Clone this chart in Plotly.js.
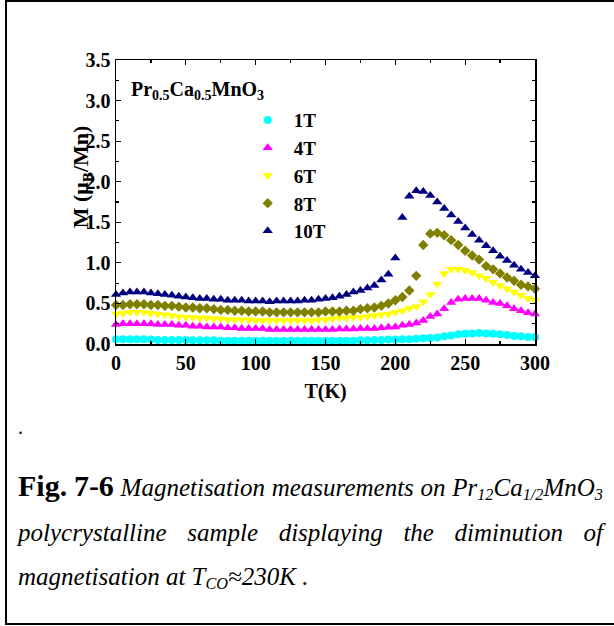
<!DOCTYPE html>
<html>
<head>
<meta charset="utf-8">
<script src="https://cdn.plot.ly/plotly-3.0.1.min.js"></script>
<style>
  html, body { margin: 0; padding: 0; background: #fff; width: 614px; height: 626px; overflow: hidden; }
  #frame { position: absolute; left: 5px; top: 0; width: 700px; height: 621px; border: 2px solid #000; pointer-events: none; }
  #chart { position: absolute; left: 0; top: 0; width: 614px; height: 626px; }
  .cap { position: absolute; left: 18px; width: 585px; font-family: "Liberation Serif", "Times New Roman", serif; color: #000; }
  .just { display: flex; justify-content: space-between; align-items: baseline; line-height: 30px; height: 30px; }
  .it { font-style: italic; font-size: 25px; }
  .bf { font-weight: bold; font-size: 30px; }
  .cap sub { font-size: 0.65em; vertical-align: -0.25em; line-height: 0; }
</style>
</head>
<body>
<div id="chart"></div>
<div id="frame"></div>
<div class="cap" style="top:412px;font-size:20px;line-height:30px;">.</div>
<div class="cap just" style="top:471px;">
  <span class="bf">Fig.</span><span class="bf">7-6</span>
  <span class="it">Magnetisation</span><span class="it">measurements</span><span class="it">on</span>
  <span class="it">Pr<sub>12</sub>Ca<sub>1/2</sub>MnO<sub>3</sub></span>
</div>
<div class="cap just" style="top:518px;">
  <span class="it">polycrystalline</span><span class="it">sample</span><span class="it">displaying</span>
  <span class="it">the</span><span class="it">diminution</span><span class="it">of</span>
</div>
<div class="cap it" style="top:562px;line-height:30px;">magnetisation at T<sub>CO</sub>&#8776;230K .</div>
<script>
// Temperature grid (K)
const temperature = [0,5,10,15,20,25,30,35,40,45,50,55,60,65,70,75,80,85,90,95,
  100,105,110,115,120,125,130,135,140,145,150,155,160,165,170,175,180,185,190,195,
  200,205,210,215,220,225,230,235,240,245,250,255,260,265,270,275,280,285,290,295,300];

// Magnetisation (muB/Mn) for each applied field
const m1T = [0.06,0.06,0.06,0.06,0.06,0.055,0.05,0.05,0.05,0.05,
  0.05,0.045,0.045,0.045,0.045,0.04,0.04,0.04,0.04,0.04,
  0.04,0.04,0.04,0.04,0.04,0.04,0.04,0.04,0.04,0.04,
  0.04,0.04,0.04,0.04,0.04,0.045,0.045,0.05,0.05,0.055,
  0.055,0.06,0.06,0.065,0.07,0.075,0.08,0.095,0.105,0.12,
  0.125,0.13,0.135,0.13,0.125,0.12,0.11,0.10,0.095,0.085,0.085];
const m4T = [0.24,0.25,0.25,0.25,0.25,0.25,0.24,0.24,0.24,0.23,
  0.23,0.22,0.22,0.21,0.21,0.21,0.20,0.20,0.19,0.19,
  0.19,0.19,0.18,0.18,0.18,0.18,0.18,0.18,0.18,0.18,
  0.18,0.18,0.185,0.185,0.185,0.19,0.19,0.19,0.20,0.205,
  0.21,0.23,0.24,0.26,0.29,0.34,0.37,0.435,0.51,0.55,
  0.56,0.56,0.56,0.54,0.51,0.50,0.47,0.435,0.41,0.385,0.37];
const m6T = [0.37,0.38,0.39,0.39,0.39,0.38,0.37,0.36,0.35,0.34,
  0.33,0.33,0.32,0.32,0.31,0.31,0.30,0.30,0.30,0.30,
  0.29,0.29,0.29,0.29,0.29,0.29,0.29,0.29,0.29,0.30,
  0.30,0.31,0.32,0.32,0.33,0.33,0.34,0.35,0.36,0.37,
  0.39,0.41,0.44,0.46,0.52,0.61,0.74,0.87,0.92,0.92,
  0.91,0.88,0.84,0.81,0.76,0.72,0.68,0.64,0.60,0.56,0.54];
const m8T = [0.48,0.48,0.49,0.49,0.49,0.48,0.48,0.47,0.47,0.46,
  0.45,0.45,0.44,0.44,0.43,0.42,0.42,0.41,0.41,0.40,
  0.40,0.40,0.39,0.39,0.39,0.39,0.39,0.39,0.39,0.39,
  0.40,0.40,0.40,0.41,0.41,0.43,0.44,0.45,0.47,0.50,
  0.54,0.58,0.66,0.84,1.22,1.36,1.37,1.34,1.28,1.22,
  1.15,1.09,1.04,0.96,0.92,0.87,0.82,0.78,0.73,0.71,0.68];
const m10T = [0.61,0.63,0.64,0.64,0.64,0.63,0.62,0.61,0.60,0.59,
  0.58,0.57,0.56,0.56,0.55,0.55,0.54,0.54,0.54,0.53,
  0.53,0.53,0.52,0.53,0.53,0.53,0.53,0.54,0.54,0.55,
  0.56,0.57,0.59,0.61,0.64,0.66,0.69,0.72,0.79,0.86,
  1.06,1.56,1.82,1.89,1.88,1.83,1.75,1.67,1.59,1.51,
  1.43,1.35,1.28,1.21,1.15,1.08,1.03,0.97,0.92,0.88,0.84];

const fieldNames = ['1T', '4T', '6T', '8T', '10T'];
const series = [m1T, m4T, m6T, m8T, m10T];
const colors = ['#00FFFF', '#FF00FF', '#FFFF00', '#808000', '#000080'];
const symbols = ['circle', 'triangle-up', 'triangle-down', 'diamond', 'triangle-up'];
const sizes = [8, 9, 9, 8, 9];

const serif = 'Liberation Serif, Times New Roman, serif';
const boldFont = (size) => ({ family: serif, size: size, color: '#000', weight: 700 });

const traces = series.map((vals, k) => ({
  type: 'scatter',
  mode: 'markers',
  x: temperature,
  y: vals,
  name: fieldNames[k],
  cliponaxis: false,
  marker: { symbol: symbols[k], color: colors[k], size: sizes[k], line: { width: 0 } }
}));

const axisCommon = {
  showline: true, linecolor: '#000', linewidth: 1.5, mirror: 'allticks',
  ticks: 'inside', ticklen: 5, tickwidth: 1.2, tickcolor: '#000',
  showgrid: false, zeroline: false,
  tickfont: boldFont(20)
};

const layout = {
  width: 614, height: 626,
  margin: { l: 116, r: 79, t: 60, b: 282 },
  paper_bgcolor: 'rgba(0,0,0,0)', plot_bgcolor: 'rgba(0,0,0,0)',
  showlegend: true,
  legend: {
    x: 0.30, y: 0.855, xanchor: 'left', yanchor: 'top',
    font: boldFont(19), bgcolor: 'rgba(0,0,0,0)', borderwidth: 0,
    itemwidth: 42, tracegroupgap: 0
  },
  xaxis: Object.assign({}, axisCommon, {
    range: [0, 300], dtick: 50, tick0: 0,
    minor: { dtick: 25, ticks: 'inside', ticklen: 3, tickcolor: '#000', showgrid: false },
    title: { text: 'T(K)', font: boldFont(20), standoff: 11 }
  }),
  yaxis: Object.assign({}, axisCommon, {
    range: [0, 3.5], dtick: 0.5, tick0: 0, tickformat: '.1f',
    minor: { dtick: 0.25, ticks: 'inside', ticklen: 3, tickcolor: '#000', showgrid: false }
  }),
  annotations: [
    {
      xref: 'paper', yref: 'paper', x: 0.031, y: 0.893, xanchor: 'left', yanchor: 'middle',
      text: 'Pr<sub>0.5</sub>Ca<sub>0.5</sub>MnO<sub>3</sub>', showarrow: false, font: boldFont(20)
    },
    {
      xref: 'paper', yref: 'paper', x: -0.079, y: 0.59, xanchor: 'center', yanchor: 'middle',
      text: 'M (\u03BC<sub>B</sub>/Mn)', textangle: -90, showarrow: false, font: boldFont(22)
    }
  ]
};

Plotly.newPlot('chart', traces, layout, { staticPlot: true, displayModeBar: false });
</script>
</body>
</html>
